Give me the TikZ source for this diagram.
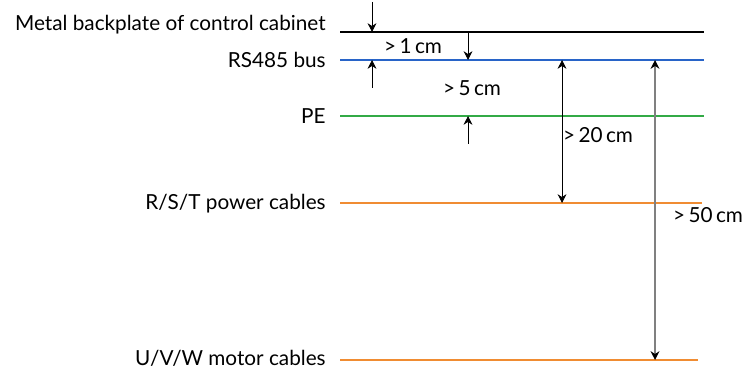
\documentclass[tikz,border=0pt]{standalone}
\usepackage{fontspec}
\setmainfont{Lato}
\usepackage{xcolor}
\usepackage{tikz}
\usetikzlibrary{arrows.meta}
\definecolor{busblue}{RGB}{40,100,200}
\definecolor{pegreen}{RGB}{50,170,70}
\definecolor{cableorange}{RGB}{240,140,50}
\begin{document}
\begin{tikzpicture}[x=0.02cm,y=-0.02cm,font=\fontsize{11.8}{13}\selectfont,
  lbl/.style={anchor=east,inner sep=0pt},
  layer/.style={line width=0.7pt},
  dim/.style={-{Stealth[length=5pt,width=5pt]},black},
  ddim/.style={{Stealth[length=5pt,width=5pt]}-{Stealth[length=5pt,width=5pt]}}]
\useasboundingbox (0,0) rectangle (746,374);
% layers
\node[lbl] (plate) at (326,25) {Metal backplate of control cabinet};
\node[lbl] (bus) at (326,60) {RS485 bus};
\node[lbl] (pe) at (326,116) {PE};
\node[lbl] (rst) at (326,204) {R/S/T power cables};
\node[lbl] (uvw) at (326,358) {U/V/W motor cables};
\coordinate (p1) at (340,32); \coordinate (p2) at (704,32);
\coordinate (b1) at (340,60); \coordinate (b2) at (704,60);
\coordinate (e1) at (340,116); \coordinate (e2) at (704,116);
\coordinate (r1) at (340,203); \coordinate (r2) at (702,203);
\coordinate (u1) at (340,360); \coordinate (u2) at (698,360);
\draw[layer] (p1) -- (p2);
\draw[busblue,layer] (b1) -- (b2);
\draw[pegreen,layer] (e1) -- (e2);
\draw[cableorange,layer] (r1) -- (r2);
\draw[cableorange,layer] (u1) -- (u2);
% spacings
\coordinate (a1) at (372,2); \coordinate (a2) at (372,32);
\coordinate (a3) at (372,88); \coordinate (a4) at (372,60);
\draw[dim] (a1) -- (a2);
\draw[dim] (a3) -- (a4);
\node (d1) at (413,46) {>\,1\,cm};
\coordinate (c1) at (468,32); \coordinate (c2) at (468,60);
\coordinate (c3) at (468,144); \coordinate (c4) at (468,116);
\draw[dim] (c1) -- (c2);
\draw[dim] (c3) -- (c4);
\node (d5) at (472,88) {>\,5\,cm};
\coordinate (f1) at (562,60); \coordinate (f2) at (562,203);
\draw[ddim] (f1) -- (f2);
\node (d20) at (598,135) {>\,20\,cm};
\coordinate (g1) at (655,60); \coordinate (g2) at (655,360);
\draw[gray,line width=0.9pt,{Stealth[length=5pt,width=5pt,black]}-{Stealth[length=5pt,width=5pt,black]}] (g1) -- (g2);
\node (d50) at (708,215) {>\,50\,cm};
\end{tikzpicture}
\end{document}
